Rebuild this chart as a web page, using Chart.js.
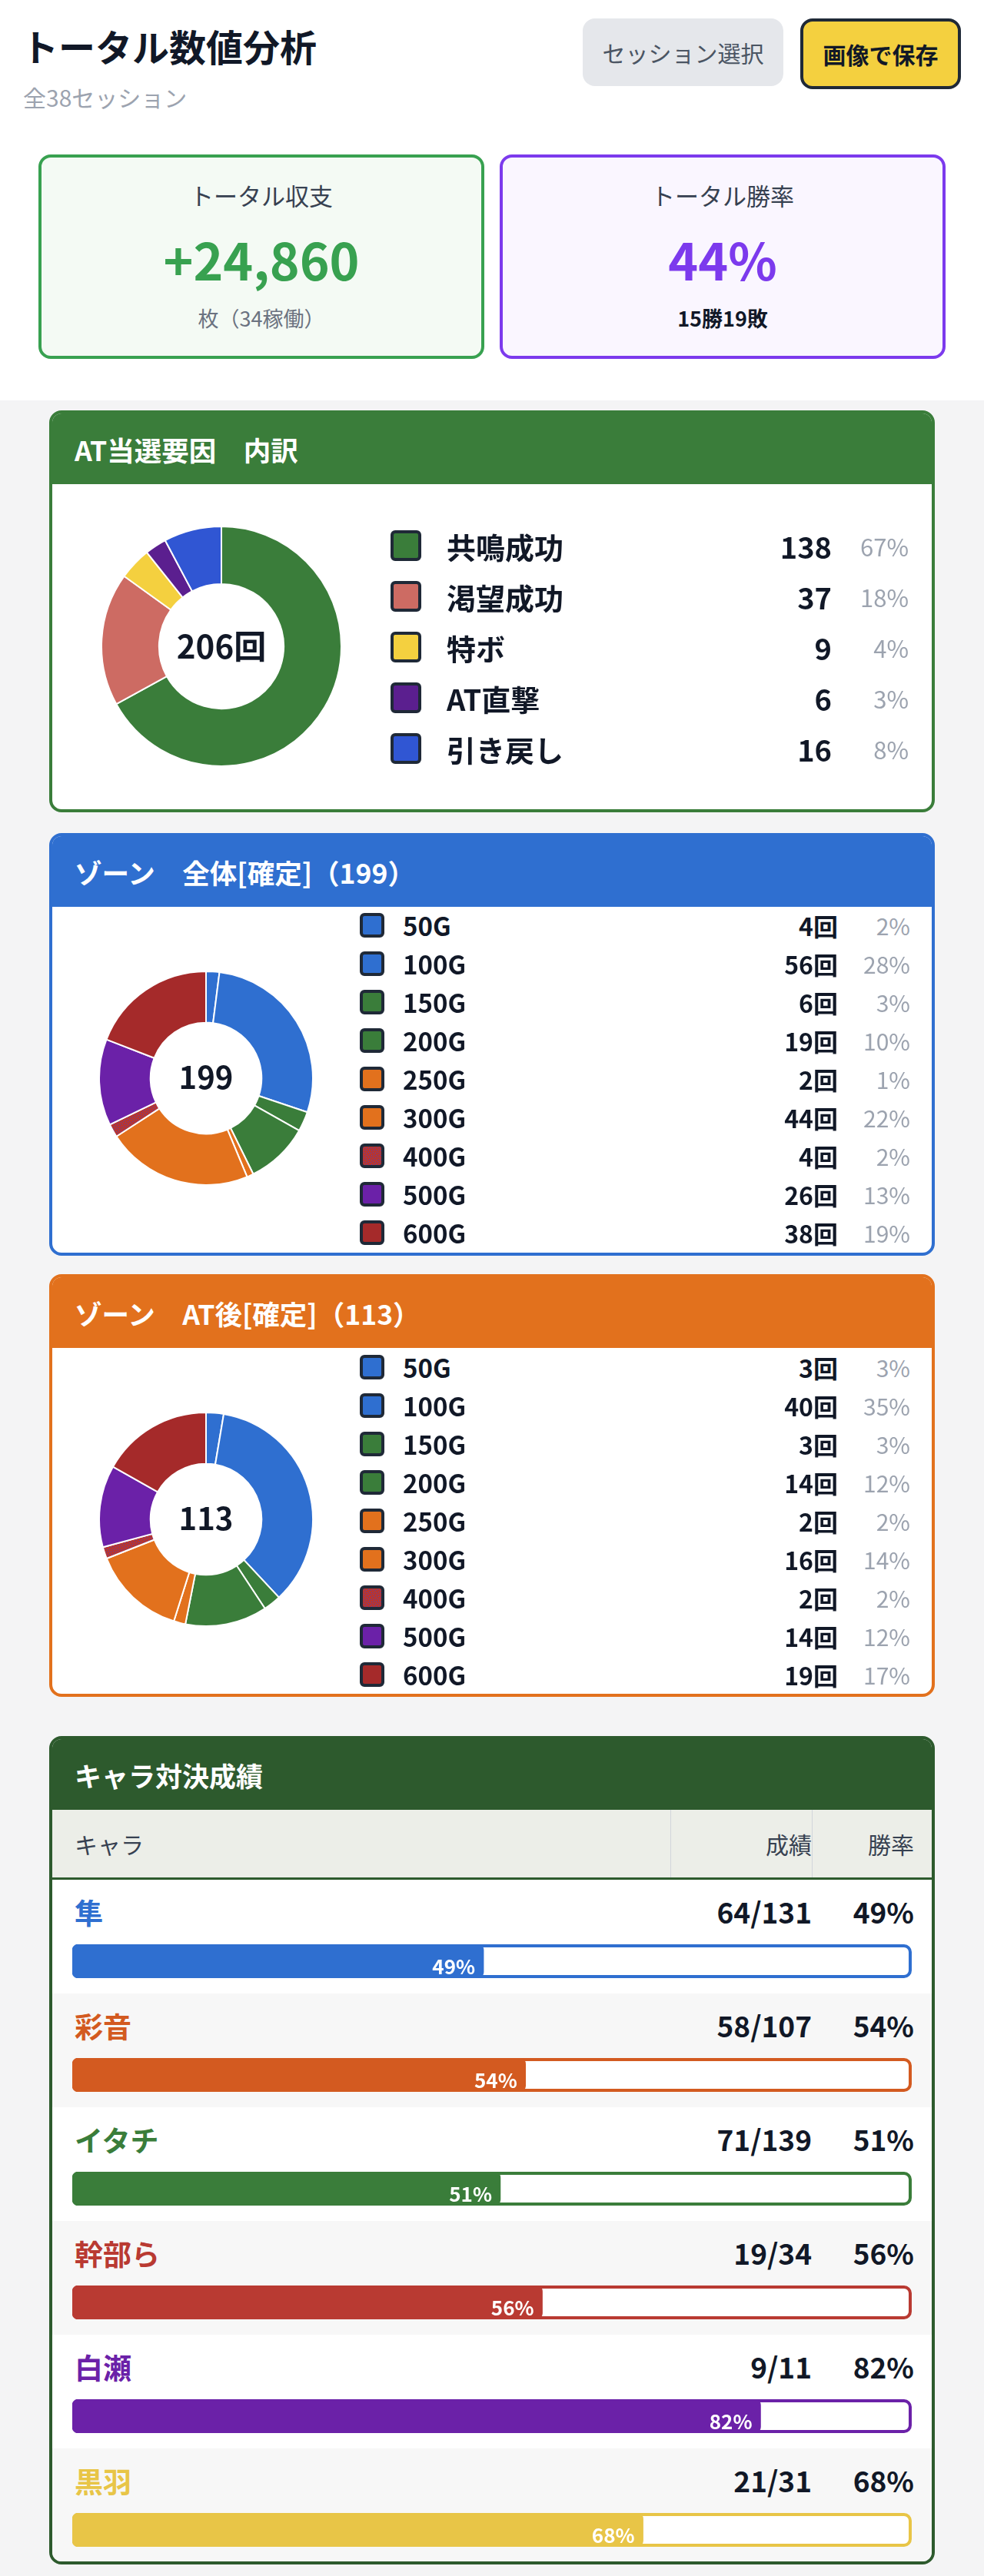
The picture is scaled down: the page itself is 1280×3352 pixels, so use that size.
<!DOCTYPE html>
<html lang="ja">
<head>
<meta charset="utf-8">
<title>トータル数値分析</title>
<script src="https://cdn.jsdelivr.net/npm/chart.js@4/dist/chart.umd.min.js"></script>
<style>
* { box-sizing: border-box; }
html, body { margin: 0; padding: 0; }
body { width: 1280px; height: 3352px; position: relative; overflow: hidden; background: #f4f4f5;
  font-family: "Noto Sans CJK JP", "Noto Sans", sans-serif; color: #111827; }
.abs { position: absolute; white-space: nowrap; }
#top { left: 0; top: 0; width: 1280px; height: 521px; background: #fff; }
.btn { display: flex; align-items: center; justify-content: center; font-size: 30px; }
.card { border: 4px solid; border-radius: 16px; text-align: center; }
.card div { position: absolute; left: 0; right: 0; }
.panel { left: 64px; width: 1152px; border: 4px solid; border-radius: 16px; background: #fff; overflow: hidden; }
.head { position: absolute; left: 0; right: 0; top: 0; color: #fff; font-weight: 700; font-size: 35.5px;
  padding-left: 29px; display: flex; align-items: center; }
.row { position: absolute; left: 0; right: 0; display: flex; align-items: center; }
.row span { position: absolute; white-space: nowrap; }
.sw { border: 4px solid #1f2937; border-radius: 6px; }
.pct { color: #9ca3af; font-weight: 400; }
.lab, .cnt { font-weight: 700; }
.center { position: absolute; display: flex; align-items: center; justify-content: center; font-weight: 700; }
canvas { position: absolute; display: block; }
.th { position: absolute; top: 0; height: 100%; display: flex; align-items: center; font-size: 30px; color: #374151; }
.track { position: absolute; border: 4px solid; border-radius: 10px; background: #fff; }
</style>
</head>
<body>
<div class="abs" id="top"></div>
<div class="abs" style="left:28px;top:24px;font-size:48px;font-weight:700;line-height:70px;color:#111827">トータル数値分析</div>
<div class="abs" style="left:30px;top:104px;font-size:30px;line-height:44px;color:#9ca3af">全38セッション</div>
<div class="abs btn" style="left:758px;top:24px;width:261px;height:88px;background:#e5e7eb;border-radius:16px;color:#4b5563">セッション選択</div>
<div class="abs btn" style="left:1041px;top:24px;width:209px;height:92px;background:#f4d03f;border:4px solid #1f2937;border-radius:16px;font-weight:700">画像で保存</div>

<div class="abs card" style="left:50px;top:201px;width:580px;height:266px;background:#f4faf4;border-color:#38a150">
  <div style="top:27px;line-height:44px;font-size:31px;color:#374151">トータル収支</div>
  <div style="top:81px;line-height:100px;font-size:66px;font-weight:700;color:#38a150">+24,860</div>
  <div style="top:191px;line-height:36px;font-size:27px;color:#6b7280">枚（34稼働）</div>
</div>
<div class="abs card" style="left:650px;top:201px;width:580px;height:266px;background:#faf6ff;border-color:#7c3aed">
  <div style="top:27px;line-height:44px;font-size:31px;color:#374151">トータル勝率</div>
  <div style="top:81px;line-height:100px;font-size:66px;font-weight:700;color:#7c3aed">44%</div>
  <div style="top:191px;line-height:36px;font-size:27px;font-weight:700;color:#111827">15勝19敗</div>
</div>

<div id="root"></div>

<script>
var factorLabels = ['共鳴成功', '渇望成功', '特ボ', 'AT直撃', '引き戻し'];
var factorValues = [138, 37, 9, 6, 16];
var factorPct = [67, 18, 4, 3, 8];
var factorColors = ['#3a7d3a', '#cd6b63', '#f4d03f', '#5b1f8f', '#3056d3'];

var zoneLabels = ['50G', '100G', '150G', '200G', '250G', '300G', '400G', '500G', '600G'];
var zoneAllValues = [4, 56, 6, 19, 2, 44, 4, 26, 38];
var zoneAllPct = [2, 28, 3, 10, 1, 22, 2, 13, 19];
var zoneAtValues = [3, 40, 3, 14, 2, 16, 2, 14, 19];
var zoneAtPct = [3, 35, 3, 12, 2, 14, 2, 12, 17];
var zoneColors = ['#2f6fd0', '#2f6fd0', '#3a7d3a', '#3a7d3a', '#e2711d', '#e2711d', '#b8352f', '#6b21a8', '#a52a2a'];
var dottedColor = '#b8352f'; // 400G is red with small blue dots

var charaNames = ['隼', '彩音', 'イタチ', '幹部ら', '白瀬', '黒羽'];
var charaRecords = ['64/131', '58/107', '71/139', '19/34', '9/11', '21/31'];
var charaRates = [49, 54, 51, 56, 82, 68];
var charaColors = ['#2f6fd0', '#d35a20', '#3a7d3a', '#b93a32', '#6b21a8', '#e8c547'];

Chart.defaults.animation = false;
Chart.defaults.font.family = '"Noto Sans CJK JP", "Noto Sans", sans-serif';

var root = document.getElementById('root');

// tile for the dotted 400G slice and swatch
var tile = document.createElement('canvas');
tile.width = 6;
tile.height = 6;
var tctx = tile.getContext('2d');
tctx.fillStyle = dottedColor;
tctx.fillRect(0, 0, 6, 6);
tctx.fillStyle = '#4a3fc0';
tctx.fillRect(1, 1, 1, 1);
tctx.fillRect(4, 2, 1, 1);
tctx.fillRect(2, 4, 1, 1);
tctx.fillRect(5, 5, 1, 1);
var dottedPattern = tctx.createPattern(tile, 'repeat');

function el(parent, cls, style, text) {
    var d = document.createElement('div');
    d.className = cls;
    d.style.cssText = style;
    if (text !== undefined) d.textContent = text;
    parent.appendChild(d);
    return d;
}

function span(parent, cls, style, text) {
    var s = document.createElement('span');
    s.className = cls;
    s.style.cssText = style;
    s.textContent = text;
    parent.appendChild(s);
}

// one donut + legend panel
function donutPanel(o) {
    var p = el(root, 'abs panel', 'top:' + o.top + 'px;height:' + o.height + 'px;border-color:' + o.color);
    el(p, 'head', 'height:' + o.headH + 'px;background:' + o.color, o.title);

    var c = document.createElement('canvas');
    c.width = o.size;
    c.height = o.size;
    c.style.left = (o.cx - o.size / 2 - 68) + 'px';
    c.style.top = (o.cy - o.size / 2 - o.top - 4) + 'px';
    p.appendChild(c);
    new Chart(c, {
        type: 'doughnut',
        data: {
            labels: o.labels,
            datasets: [{
                data: o.values,
                backgroundColor: o.colors.map(function (col, i) {
                    return o.dotted === i ? dottedPattern : col;
                }),
                borderColor: '#fff',
                borderWidth: 2
            }]
        },
        options: {
            responsive: false,
            cutout: '52%',
            plugins: { legend: { display: false }, tooltip: { enabled: false } }
        }
    });
    el(p, 'center', 'left:' + (o.cx - 100 - 68) + 'px;top:' + (o.cy - 53 - o.top - 4) + 'px;width:200px;height:100px;font-size:' + o.centerF + 'px', o.center);

    o.labels.forEach(function (name, i) {
        var y = o.rowY + i * o.rowGap - o.top - 4;
        var r = el(p, 'row', 'top:' + (y - 30) + 'px;height:60px');
        var bg = o.dotted === i ? 'url(' + tile.toDataURL() + ')' : o.colors[i];
        span(r, 'sw', 'left:' + (o.swX - 68) + 'px;top:' + (30 - o.swH / 2) + 'px;width:' + o.swW + 'px;height:' + o.swH + 'px;background:' + bg, '');
        span(r, 'lab', 'left:' + (o.labX - 68) + 'px;font-size:' + o.labF + 'px', name);
        span(r, 'cnt', 'right:' + (1212 - o.cntR) + 'px;font-size:' + o.cntF + 'px', o.values[i] + o.unit);
        span(r, 'pct', 'right:' + (1212 - o.pctR) + 'px;font-size:' + o.pctF + 'px', o.pct[i] + '%');
    });
}

donutPanel({
    top: 534, height: 523, headH: 92, color: '#3a7d3a', title: 'AT当選要因　内訳',
    labels: factorLabels, values: factorValues, pct: factorPct, colors: factorColors, center: '206回', centerF: 42,
    size: 314, cx: 288, cy: 841, rowY: 710, rowGap: 66,
    swX: 508, swW: 40, swH: 40, labX: 581, labF: 38, cntR: 1082, cntF: 38, pctR: 1182, pctF: 31, unit: ''
});
donutPanel({
    top: 1084, height: 550, headH: 92, color: '#2f6fd0', title: 'ゾーン　全体[確定]（199）',
    labels: zoneLabels, values: zoneAllValues, pct: zoneAllPct, colors: zoneColors, center: '199', centerF: 40, dotted: 6,
    size: 280, cx: 268, cy: 1403, rowY: 1204, rowGap: 50,
    swX: 468, swW: 32, swH: 32, labX: 524, labF: 33, cntR: 1090, cntF: 32, pctR: 1184, pctF: 30, unit: '回'
});
donutPanel({
    top: 1658, height: 550, headH: 92, color: '#e2711d', title: 'ゾーン　AT後[確定]（113）',
    labels: zoneLabels, values: zoneAtValues, pct: zoneAtPct, colors: zoneColors, center: '113', centerF: 40, dotted: 6,
    size: 280, cx: 268, cy: 1977, rowY: 1779, rowGap: 50,
    swX: 468, swW: 32, swH: 32, labX: 524, labF: 33, cntR: 1090, cntF: 32, pctR: 1184, pctF: 30, unit: '回'
});

// white % text at the end of the fill
var barLabel = {
    id: 'barLabel',
    afterDatasetsDraw: function (chart) {
        var bar = chart.getDatasetMeta(0).data[0];
        var ctx = chart.ctx;
        ctx.save();
        ctx.font = '700 26px "Noto Sans CJK JP"';
        ctx.fillStyle = '#fff';
        ctx.textAlign = 'right';
        ctx.textBaseline = 'middle';
        ctx.fillText(chart.data.datasets[0].data[0] + '%', bar.x - 11, bar.y + 7);
        ctx.restore();
    }
};

var cp = el(root, 'abs panel', 'top:2259px;height:1078px;border-color:#2d5a2d');
el(cp, 'head', 'height:92px;font-size:35px;background:#2d5a2d', 'キャラ対決成績');
var thead = el(cp, '', 'position:absolute;left:0;right:0;top:92px;height:92px;background:#eceee8;border-bottom:4px solid #2d5a2d');
el(thead, 'th', 'left:29px', 'キャラ');
el(thead, 'th', 'left:804px;width:185px;justify-content:flex-end;border-left:1px solid #d1d5db;border-right:1px solid #d1d5db', '成績');
el(thead, 'th', 'right:23px', '勝率');

charaNames.forEach(function (name, i) {
    var r = el(cp, '', 'position:absolute;left:0;right:0;top:' + (183 + i * 148) + 'px;height:148px;background:' + (i % 2 ? '#f7f7f7' : '#fff'));
    el(r, 'abs', 'left:29px;top:14px;line-height:56px;font-size:37px;font-weight:700;color:' + charaColors[i], name);
    el(r, 'abs', 'right:156px;top:13px;line-height:56px;font-size:37px;font-weight:700', charaRecords[i]);
    el(r, 'abs', 'right:23px;top:13px;line-height:56px;font-size:37px;font-weight:700', charaRates[i] + '%');
    el(r, 'track', 'left:26px;top:84px;width:1092px;height:44px;border-color:' + charaColors[i]);
    var c = document.createElement('canvas');
    c.width = 1092;
    c.height = 44;
    c.style.left = '26px';
    c.style.top = '84px';
    r.appendChild(c);
    new Chart(c, {
        type: 'bar',
        data: {
            labels: [name],
            datasets: [{
                data: [charaRates[i]],
                backgroundColor: charaColors[i],
                borderRadius: 8,
                borderSkipped: false,
                barPercentage: 1,
                categoryPercentage: 1
            }]
        },
        options: {
            indexAxis: 'y',
            responsive: false,
            scales: {
                x: { display: false, min: 0, max: 100 },
                y: { display: false }
            },
            plugins: { legend: { display: false }, tooltip: { enabled: false } }
        },
        plugins: [barLabel]
    });
});
</script>
</body>
</html>
